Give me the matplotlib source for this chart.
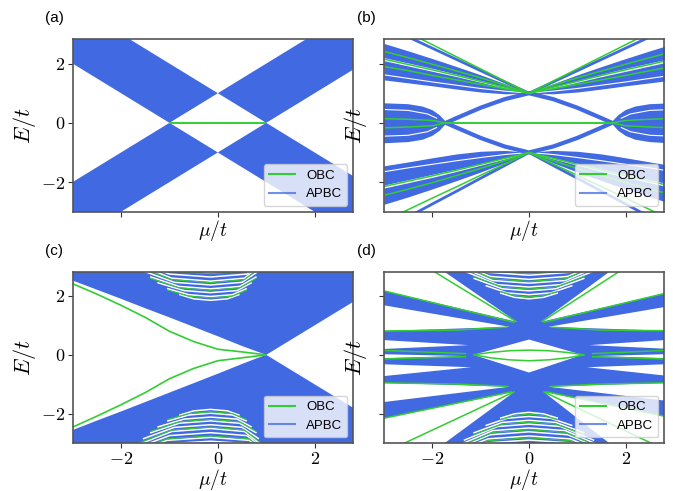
import matplotlib
matplotlib.use("Agg")
import matplotlib.pyplot as plt
from matplotlib.lines import Line2D

plt.rcParams["mathtext.fontset"] = "cm"
plt.rcParams["font.family"] = ["Liberation Sans", "DejaVu Sans"]

BLUE = "#4169e1"
GREEN = "#32cd32"
WHITE = "white"
MU_LIM = (-3.0, 2.8)
E_LIM = (-3.0, 2.82)
TICKS = [-2, 0, 2]
TICK_LABELS = [r"$-2$", r"$0$", r"$2$"]

# ---------------- panel (a) : band regions (polygons) ----------------
a_ul_mu = [-3.0, -1.0, 0.0, -3.0]; a_ul_E = [2.0, 0.0, 1.0, 4.0]
a_ur_mu = [0.0, 1.0, 2.8, 2.8];   a_ur_E = [1.0, 0.0, 1.8, 3.8]
a_ll_mu = [-3.0, -1.0, 0.0, -3.0]; a_ll_E = [-2.0, 0.0, -1.0, -4.0]
a_lr_mu = [0.0, 1.0, 2.8, 2.8];   a_lr_E = [-1.0, 0.0, -1.8, -3.8]
a_obc_mu = [-1.0, 1.0]; a_obc_E = [0.0, 0.0]

# ---------------- panel (b) ----------------
mu_b = [-3.0, -2.5, -2.0, -1.5, -1.0, -0.5, 0.0, 0.5, 1.0, 1.5, 2.0, 2.5, 2.8]
b_top_line = [3.28, 2.90, 2.52, 2.14, 1.76, 1.38, 1.00, 1.38, 1.76, 2.14, 2.52, 2.90, 3.13]
b_B1_hi = [2.68, 2.43, 2.17, 1.90, 1.62, 1.32, 1.00, 1.32, 1.62, 1.90, 2.17, 2.43, 2.58]
b_B1_lo = [2.20, 2.02, 1.84, 1.64, 1.43, 1.22, 1.00, 1.22, 1.43, 1.64, 1.84, 2.02, 2.13]
b_B2_hi = [2.10, 1.92, 1.74, 1.56, 1.37, 1.18, 1.00, 1.18, 1.37, 1.56, 1.74, 1.92, 2.03]
b_B2_lo = [1.45, 1.35, 1.25, 1.14, 1.04, 0.98, 1.00, 0.98, 1.04, 1.14, 1.25, 1.35, 1.41]
b_gu0 = [3.46, 3.05, 2.64, 2.23, 1.82, 1.41, 1.00, 1.41, 1.82, 2.23, 2.64, 3.05, 3.30]
b_gu1 = [2.41, 2.20, 1.98, 1.75, 1.52, 1.27, 1.00, 1.27, 1.52, 1.75, 1.98, 2.20, 2.33]
b_gu2 = [2.15, 1.97, 1.79, 1.60, 1.40, 1.20, 1.00, 1.20, 1.40, 1.60, 1.79, 1.97, 2.08]
b_gu3 = [1.90, 1.76, 1.60, 1.45, 1.30, 1.15, 1.00, 1.15, 1.30, 1.45, 1.60, 1.76, 1.85]
b_wu = [1.62, 1.50, 1.38, 1.27, 1.16, 1.07, 1.00, 1.07, 1.16, 1.27, 1.38, 1.50, 1.57]
b_bot_line = [-3.61, -3.18, -2.74, -2.31, -1.87, -1.44, -1.00, -1.44, -1.87, -2.31, -2.74, -3.18, -3.44]
b_B3_hi = [-1.45, -1.32, -1.18, -1.05, -0.96, -0.93, -1.00, -0.93, -0.96, -1.05, -1.18, -1.32, -1.40]
b_B3_lo = [-2.10, -1.92, -1.74, -1.56, -1.37, -1.18, -1.00, -1.18, -1.37, -1.56, -1.74, -1.92, -2.03]
b_B4_hi = [-2.20, -2.02, -1.84, -1.64, -1.43, -1.22, -1.00, -1.22, -1.43, -1.64, -1.84, -2.02, -2.13]
b_B4_lo = [-2.75, -2.50, -2.23, -1.95, -1.66, -1.35, -1.00, -1.35, -1.66, -1.95, -2.23, -2.50, -2.65]
b_gd0 = [-3.31, -2.93, -2.54, -2.16, -1.77, -1.39, -1.00, -1.39, -1.77, -2.16, -2.54, -2.93, -3.16]
b_gd1 = [-2.45, -2.24, -2.02, -1.78, -1.54, -1.28, -1.00, -1.28, -1.54, -1.78, -2.02, -2.24, -2.36]
b_gd2 = [-2.15, -1.97, -1.79, -1.60, -1.40, -1.20, -1.00, -1.20, -1.40, -1.60, -1.79, -1.97, -2.08]
b_wd = [-1.65, -1.52, -1.40, -1.28, -1.17, -1.07, -1.00, -1.07, -1.17, -1.28, -1.40, -1.52, -1.60]
# centre bundles
b_cl_mu = [-3.0, -2.5, -2.2, -2.0, -1.85, -1.75, -1.70, -1.75, -1.85, -2.0, -2.2, -2.5, -3.0]
b_cl_E = [0.66, 0.63, 0.55, 0.43, 0.26, 0.09, 0.0, -0.09, -0.27, -0.44, -0.57, -0.65, -0.69]
b_cr_mu = [2.8, 2.5, 2.2, 2.0, 1.85, 1.75, 1.70, 1.75, 1.85, 2.0, 2.2, 2.5, 2.8]
b_cr_E = [0.65, 0.63, 0.55, 0.43, 0.26, 0.09, 0.0, -0.09, -0.27, -0.44, -0.57, -0.65, -0.68]
b_gc_l_mu = [-3.0, -2.5, -2.0, -1.72]; b_gc1_l = [0.14, 0.12, 0.08, 0.0]; b_gc2_l = [-0.17, -0.14, -0.10, 0.0]
b_gc_r_mu = [2.8, 2.5, 2.0, 1.72];    b_gc1_r = [0.14, 0.12, 0.08, 0.0]; b_gc2_r = [-0.16, -0.14, -0.10, 0.0]
b_wc_l_mu = [-3.0, -2.5, -2.1, -1.9]; b_wc1_l = [0.45, 0.42, 0.30, 0.15]; b_wc2_l = [-0.45, -0.42, -0.30, -0.15]
b_wc_r_mu = [2.8, 2.5, 2.1, 1.9];    b_wc1_r = [0.44, 0.42, 0.30, 0.15]; b_wc2_r = [-0.44, -0.42, -0.30, -0.15]
b_arm_mu = [-1.72, -1.5, -1.0, -0.5, 0.0, 0.5, 1.0, 1.5, 1.72]
b_arm_up = [0.0, 0.16, 0.51, 0.80, 1.0, 0.80, 0.51, 0.16, 0.0]
b_arm_dn = [0.0, -0.16, -0.51, -0.80, -1.0, -0.80, -0.51, -0.16, 0.0]
b_obc0_mu = [-1.78, 1.77]; b_obc0_E = [0.0, 0.0]

# ---------------- panel (c) ----------------
c_up_mu = [-3.0, -2.5, -2.0, -1.5, -1.0, -0.5, 0.0, 0.5, 0.8, 1.0, 2.8, 2.8, -3.0]
c_up_E = [2.52, 2.21, 1.90, 1.58, 1.27, 0.95, 0.63, 0.30, 0.12, 0.0, 1.80, 3.2, 3.2]
c_dn_mu = [-3.0, -2.5, -2.0, -1.5, -1.0, -0.5, 0.0, 0.5, 0.8, 1.0, 2.8, 2.8, -3.0]
c_dn_E = [-2.55, -2.23, -1.92, -1.60, -1.28, -0.96, -0.64, -0.31, -0.12, 0.0, -1.80, -3.3, -3.3]
c_g_mu = [-3.0, -2.5, -2.0, -1.5, -1.0, -0.5, 0.0, 0.5, 1.0]
c_g_up = [2.41, 2.06, 1.68, 1.27, 0.80, 0.45, 0.19, 0.10, 0.0]
c_g_dn = [-2.45, -2.08, -1.69, -1.28, -0.81, -0.46, -0.20, -0.10, 0.0]
c_arc_mu = [
    [-0.80, -0.50, -0.15, 0.20, 0.45],
    [-1.05, -0.60, -0.15, 0.30, 0.60],
    [-1.25, -0.70, -0.15, 0.40, 0.70],
    [-1.40, -0.80, -0.15, 0.45, 0.80],
    [-1.55, -0.90, -0.15, 0.50, 0.85],
    [-1.65, -0.95, -0.15, 0.55, 0.90],
    [-1.75, -1.00, -0.15, 0.60, 0.95],
    [-1.80, -1.05, -0.15, 0.65, 1.00],
    [-1.85, -1.10, -0.15, 0.70, 1.05],
]
c_arc_dn = [
    [-2.05, -1.90, -1.85, -1.90, -2.05],
    [-2.25, -2.04, -1.98, -2.04, -2.25],
    [-2.45, -2.18, -2.11, -2.18, -2.45],
    [-2.65, -2.32, -2.24, -2.32, -2.65],
    [-2.85, -2.46, -2.37, -2.46, -2.85],
    [-3.05, -2.60, -2.50, -2.60, -3.05],
    [-3.20, -2.74, -2.64, -2.74, -3.20],
    [-3.35, -2.90, -2.80, -2.90, -3.35],
    [-3.50, -3.02, -2.93, -3.02, -3.50],
]
c_arc_up = [
    [2.05, 1.90, 1.85, 1.90, 2.05],
    [2.25, 2.04, 1.98, 2.04, 2.25],
    [2.45, 2.18, 2.11, 2.18, 2.45],
    [2.65, 2.32, 2.24, 2.32, 2.65],
    [2.85, 2.46, 2.37, 2.46, 2.85],
    [3.05, 2.60, 2.50, 2.60, 3.05],
    [3.20, 2.74, 2.64, 2.74, 3.20],
    [3.35, 2.90, 2.80, 2.90, 3.35],
    [3.50, 3.02, 2.93, 3.02, 3.50],
]

# ---------------- panel (d) ----------------
d_bg_mu = [-3.0, 2.8, 2.8, -3.0]; d_bg_E = [-3.3, -3.3, 3.1, 3.1]
d_white_polys = [
    # left half (gaps between bands, from top to bottom)
    ([-3.0, -2.0, -0.25, -3.0], [3.1, 3.1, 1.12, 2.17]),
    ([-3.0, -0.40, -3.0], [1.68, 0.95, 0.81]),
    ([-3.0, -1.25, -3.0], [0.50, 0.33, 0.20]),
    ([-3.0, -1.35, -3.0], [0.02, -0.04, -0.11]),
    ([-3.0, -1.20, -3.0], [-0.32, -0.42, -0.72]),
    ([-3.0, -0.40, -3.0], [-0.95, -1.08, -1.60]),
    ([-3.0, -0.30, -2.0, -3.0], [-2.15, -1.25, -3.3, -3.3]),
    # right half
    ([2.8, 1.90, 0.25, 2.8], [3.1, 3.1, 1.12, 2.08]),
    ([2.8, 0.40, 2.8], [1.62, 0.95, 0.82]),
    ([2.8, 1.25, 2.8], [0.50, 0.33, 0.21]),
    ([2.8, 1.35, 2.8], [0.02, -0.04, -0.11]),
    ([2.8, 1.20, 2.8], [-0.32, -0.42, -0.70]),
    ([2.8, 0.40, 2.8], [-0.95, -1.08, -1.55]),
    ([2.8, 0.30, 1.90, 2.8], [-2.08, -1.25, -3.3, -3.3]),
    # central lens
    ([-1.15, 0.0, 1.10, 0.0], [0.0, 0.52, 0.0, -0.60]),
]
d_green_lines = [
    ([-2.0, -0.26], [2.86, 1.12]),
    ([-3.0, -0.30], [2.17, 1.10]),
    ([-3.0, -1.5, -0.45], [0.81, 0.84, 0.94]),
    ([-3.0, -1.30], [0.15, 0.04]),
    ([-3.0, -1.30], [-0.14, -0.06]),
    ([-3.0, -1.5, -0.45], [-0.95, -0.99, -1.07]),
    ([-3.0, -0.35], [-2.15, -1.25]),
    ([-2.65, -0.30], [-3.05, -1.25]),
    ([1.90, 0.26], [2.86, 1.12]),
    ([2.8, 0.30], [2.08, 1.10]),
    ([2.8, 1.5, 0.45], [0.82, 0.84, 0.94]),
    ([2.8, 1.30], [0.15, 0.04]),
    ([2.8, 1.30], [-0.14, -0.06]),
    ([2.8, 1.5, 0.45], [-0.95, -0.99, -1.07]),
    ([2.8, 0.35], [-2.08, -1.25]),
    ([2.6, 0.30], [-3.05, -1.25]),
    ([-1.15, -0.8, -0.4, 0.0, 0.4, 0.8, 1.15], [0.0, 0.08, 0.14, 0.16, 0.14, 0.08, 0.0]),
    ([-1.15, -0.8, -0.4, 0.0, 0.4, 0.8, 1.15], [0.0, -0.10, -0.17, -0.20, -0.17, -0.10, 0.0]),
]
d_arc_mu = [
    [-0.60, -0.30, 0.0, 0.30, 0.60],
    [-0.90, -0.45, 0.0, 0.45, 0.90],
    [-1.15, -0.55, 0.0, 0.55, 1.15],
    [-1.35, -0.65, 0.0, 0.65, 1.35],
    [-1.50, -0.75, 0.0, 0.75, 1.50],
    [-1.60, -0.80, 0.0, 0.80, 1.60],
    [-1.70, -0.85, 0.0, 0.85, 1.70],
    [-1.80, -0.90, 0.0, 0.90, 1.80],
]
d_arc_up = [
    [2.10, 1.95, 1.90, 1.95, 2.10],
    [2.35, 2.10, 2.04, 2.10, 2.35],
    [2.60, 2.24, 2.17, 2.24, 2.60],
    [2.85, 2.38, 2.30, 2.38, 2.85],
    [3.05, 2.52, 2.43, 2.52, 3.05],
    [3.20, 2.66, 2.56, 2.66, 3.20],
    [3.35, 2.80, 2.70, 2.80, 3.35],
    [3.50, 2.94, 2.84, 2.94, 3.50],
]
d_arc_dn = [
    [-2.15, -2.00, -1.95, -2.00, -2.15],
    [-2.40, -2.15, -2.09, -2.15, -2.40],
    [-2.65, -2.29, -2.22, -2.29, -2.65],
    [-2.90, -2.43, -2.35, -2.43, -2.90],
    [-3.10, -2.57, -2.48, -2.57, -3.10],
    [-3.25, -2.71, -2.61, -2.71, -3.25],
    [-3.40, -2.85, -2.75, -2.85, -3.40],
    [-3.55, -2.99, -2.89, -2.99, -3.55],
]

fig = plt.figure(figsize=(6.73, 4.91), dpi=100)
W, H = 673.0, 491.0
def add_ax(x0, y0, x1, y1):
    return fig.add_axes([x0 / W, 1 - y1 / H, (x1 - x0) / W, (y1 - y0) / H])

ax_a = add_ax(72.7, 39.3, 353.3, 211.7)
ax_b = add_ax(384.0, 39.3, 664.3, 211.7)
ax_c = add_ax(72.7, 271.7, 353.3, 443.3)
ax_d = add_ax(384.0, 271.7, 664.3, 443.3)

def fill(ax, mu, E, color=BLUE):
    ax.fill(mu, E, color=color, lw=0)

def band(ax, mu, lo, hi):
    ax.fill_between(mu, lo, hi, color=BLUE, lw=0)

def line(ax, mu, E, color=GREEN, lw=1.1, alpha=1.0):
    ax.plot(mu, E, color=color, lw=lw, alpha=alpha, solid_capstyle="butt")

# (a)
for mu, E in [(a_ul_mu, a_ul_E), (a_ur_mu, a_ur_E), (a_ll_mu, a_ll_E), (a_lr_mu, a_lr_E)]:
    fill(ax_a, mu, E)
line(ax_a, a_obc_mu, a_obc_E, lw=1.4)

# (b)
band(ax_b, mu_b, b_B1_lo, b_B1_hi)
band(ax_b, mu_b, b_B2_lo, b_B2_hi)
band(ax_b, mu_b, b_B4_lo, b_B4_hi)
band(ax_b, mu_b, b_B3_lo, b_B3_hi)
line(ax_b, mu_b, b_wu, color=WHITE, lw=0.8)
line(ax_b, mu_b, b_wd, color=WHITE, lw=0.8)
fill(ax_b, b_cl_mu, b_cl_E)
fill(ax_b, b_cr_mu, b_cr_E)
line(ax_b, b_wc_l_mu, b_wc1_l, color=WHITE, lw=0.8)
line(ax_b, b_wc_l_mu, b_wc2_l, color=WHITE, lw=0.8)
line(ax_b, b_wc_r_mu, b_wc1_r, color=WHITE, lw=0.8)
line(ax_b, b_wc_r_mu, b_wc2_r, color=WHITE, lw=0.8)
line(ax_b, b_arm_mu, b_arm_up, color=BLUE, lw=3.0)
line(ax_b, b_arm_mu, b_arm_dn, color=BLUE, lw=3.0)
line(ax_b, mu_b, b_top_line, color=BLUE, lw=2.0)
line(ax_b, mu_b, b_bot_line, color=BLUE, lw=2.0)
for g in (b_gu0, b_gu1, b_gu2, b_gu3, b_gd0, b_gd1, b_gd2):
    line(ax_b, mu_b, g)
line(ax_b, b_gc_l_mu, b_gc1_l); line(ax_b, b_gc_l_mu, b_gc2_l)
line(ax_b, b_gc_r_mu, b_gc1_r); line(ax_b, b_gc_r_mu, b_gc2_r)
line(ax_b, b_obc0_mu, b_obc0_E, lw=1.4)

# (c)
fill(ax_c, c_up_mu, c_up_E)
fill(ax_c, c_dn_mu, c_dn_E)
for mu, Eu, Ed in zip(c_arc_mu, c_arc_up, c_arc_dn):
    line(ax_c, mu, Eu, color=WHITE, lw=1.1)
    line(ax_c, mu, Ed, color=WHITE, lw=1.1)
for i, (mu, Eu, Ed) in enumerate(zip(c_arc_mu, c_arc_up, c_arc_dn)):
    if i % 2 == 1:
        line(ax_c, mu, [e - 0.05 for e in Eu], lw=0.8)
        line(ax_c, mu, [e + 0.05 for e in Ed], lw=0.8)
line(ax_c, c_g_mu, c_g_up, lw=1.2)
line(ax_c, c_g_mu, c_g_dn, lw=1.2)

# (d)
fill(ax_d, d_bg_mu, d_bg_E)
for mu, E in d_white_polys:
    fill(ax_d, mu, E, color=WHITE)
for mu, Eu, Ed in zip(d_arc_mu, d_arc_up, d_arc_dn):
    line(ax_d, mu, Eu, color=WHITE, lw=1.1)
    line(ax_d, mu, Ed, color=WHITE, lw=1.1)
for i, (mu, Eu, Ed) in enumerate(zip(d_arc_mu, d_arc_up, d_arc_dn)):
    if i % 2 == 0:
        line(ax_d, mu, [e + 0.06 for e in Eu], lw=0.8)
        line(ax_d, mu, [e - 0.06 for e in Ed], lw=0.8)
for mu, E in d_green_lines:
    line(ax_d, mu, E)

for ax, lab in [(ax_a, "(a)"), (ax_b, "(b)"), (ax_c, "(c)"), (ax_d, "(d)")]:
    left_col = ax in (ax_a, ax_c)
    bottom_row = ax in (ax_c, ax_d)
    ax.set_xlim(*MU_LIM)
    ax.set_ylim(*E_LIM)
    ax.set_xticks(TICKS)
    ax.set_yticks(TICKS)
    ax.set_xticklabels(TICK_LABELS if bottom_row else [])
    ax.set_yticklabels(TICK_LABELS if left_col else [])
    ax.tick_params(direction="out", length=3.5, width=0.8, color="#333333", labelsize=13, pad=2)
    for s in ax.spines.values():
        s.set_color("#555555")
        s.set_linewidth(1.2)
    ax.set_xlabel(r"$\mu/t$", fontsize=14, labelpad=-1)
    ax.set_ylabel(r"$E/t$", fontsize=16, labelpad=2 if left_col else 5)
    handles = [Line2D([], [], color=GREEN, lw=1.5, label="OBC"),
               Line2D([], [], color=BLUE, lw=1.5, alpha=0.75, label="APBC")]
    ax.legend(handles=handles, loc="lower right", fontsize=9.5, framealpha=0.8,
              handlelength=2.0, borderaxespad=0.45)

fig.text(45 / W, 1 - 18 / H, "(a)", fontsize=11, va="center")
fig.text(357 / W, 1 - 18 / H, "(b)", fontsize=11, va="center")
fig.text(45 / W, 1 - 251 / H, "(c)", fontsize=11, va="center")
fig.text(357 / W, 1 - 251 / H, "(d)", fontsize=11, va="center")

fig.savefig("out.png", dpi=100)
